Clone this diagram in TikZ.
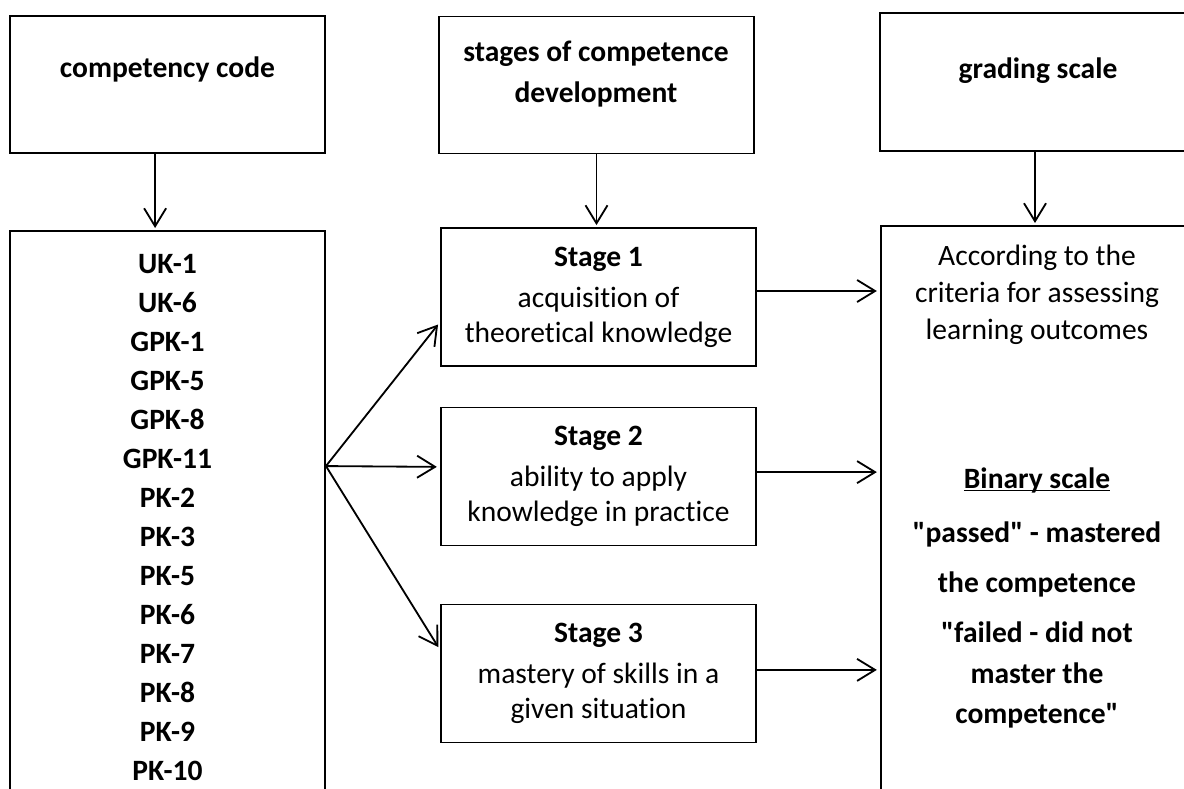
\documentclass[tikz,border=0pt]{standalone}
\usepackage{fontspec}
\setmainfont{Carlito}[Ligatures=NoCommon]
\usetikzlibrary{arrows.meta,positioning}

\def\boxw{7.875cm}
\def\boxh{3.425cm}

\begin{document}
\begin{tikzpicture}[x=0.025cm, y=-0.025cm, line width=1.3pt,
    >={Straight Barb[length=0.45cm,width=0.55cm]},
    font=\fontsize{21}{24.9}\selectfont]
    \tikzstyle{box}=[draw, rectangle, inner sep=0pt, minimum width=\boxw, minimum height=\boxh]
    \tikzstyle{stagebox}=[box, align=center, minimum height=3.45cm]
    \tikzstyle{head}=[font=\fontsize{21}{29.2}\selectfont\bfseries, align=center]
    \tikzstyle{code}=[font=\fontsize{21}{24.9}\selectfont\bfseries, anchor=base]
    \tikzstyle{flow}=[->, shorten >=0.08cm]

    \useasboundingbox (0,0) rectangle (1184,789);
    \clip (0,0) rectangle (1184,789);

    % Draw the header boxes and their titles
    \node[box] (code) at (167.5,84.5) {};
    \node[box] (stages) at (596.5,85) {};
    \node[box, minimum width=7.75cm, minimum height=3.45cm] (scale) at (1035,82) {};
    \node[head, anchor=base] (code-t) at (167.5,77) {competency code};
    \node[head] (stages-t) at (596,74.5) {stages of competence\\development};
    \node[head, anchor=base] (scale-t) at (1038,78) {grading scale};

    % Draw the list of competency codes
    \node[box, minimum height=14.725cm] (codes) at (167.5,525.5) {};
    \foreach \name [count=\i from 0] in {UK-1,UK-6,GPK-1,GPK-5,GPK-8,GPK-11,PK-2,PK-3,PK-5,PK-6,PK-7,PK-8,PK-9,PK-10}
        \node[code] (c-\i) at (167.5,273+39*\i) {\name};

    % Draw the stage boxes
    \node[stagebox] (s1) at (598.5,297) {\textbf{Stage 1}\\[4.3pt]acquisition of\\theoretical knowledge};
    \node[stagebox] (s2) at (598.5,476.5) {\textbf{Stage 2}\\[4.3pt]ability to apply\\knowledge in practice};
    \node[stagebox] (s3) at (598.5,673.5) {\textbf{Stage 3}\\[4.3pt]mastery of skills in a\\given situation};

    % Draw the grading box and its texts
    \node[box, minimum width=7.725cm, minimum height=14.85cm] (grade) at (1035.5,523) {};
    \node[align=center, font=\fontsize{21}{26.3}\selectfont] (crit) at (1037,294.5)
        {According to the\\criteria for assessing\\learning outcomes};
    \node[code] (binary) at (1037,488) {\underline{\smash{Binary scale}}};
    \node[head, font=\fontsize{21}{35.6}\selectfont\bfseries] (passed) at (1037,559.5)
        {\textquotedbl passed\textquotedbl{} - mastered\\the competence};
    \node[head, font=\fontsize{21}{28.5}\selectfont\bfseries] (failed) at (1037,675)
        {\textquotedbl failed - did not\\master the\\competence\textquotedbl};

    % Connect the headers with the boxes below
    \draw[flow, shorten >=0.05cm] ([xshift=-0.31cm]code.south) -- ([xshift=-0.31cm]codes.north);
    \draw[flow, shorten >=0.05cm] (stages.south) -- (stages.south |- s1.north);
    \draw[flow, shorten >=0.05cm] (scale.south) -- (scale.south |- grade.north);

    % Fan out from the code list to every stage
    \coordinate (fan) at ([yshift=-5.9cm]codes.north east);
    \draw[flow] (fan) -- ([yshift=-0.625cm]s1.west);
    \draw[flow] (fan) -- ([yshift=0.24cm]s2.west);
    \draw[flow] (fan) -- ([yshift=0.59cm]s3.west);

    % Connect every stage with the grading box
    \foreach \s/\d in {s1/0.15cm, s2/0.11cm, s3/0.09cm}
        \draw[flow] ([yshift=\d]\s.east) -- ([yshift=\d]\s.east -| grade.west);
\end{tikzpicture}
\end{document}
